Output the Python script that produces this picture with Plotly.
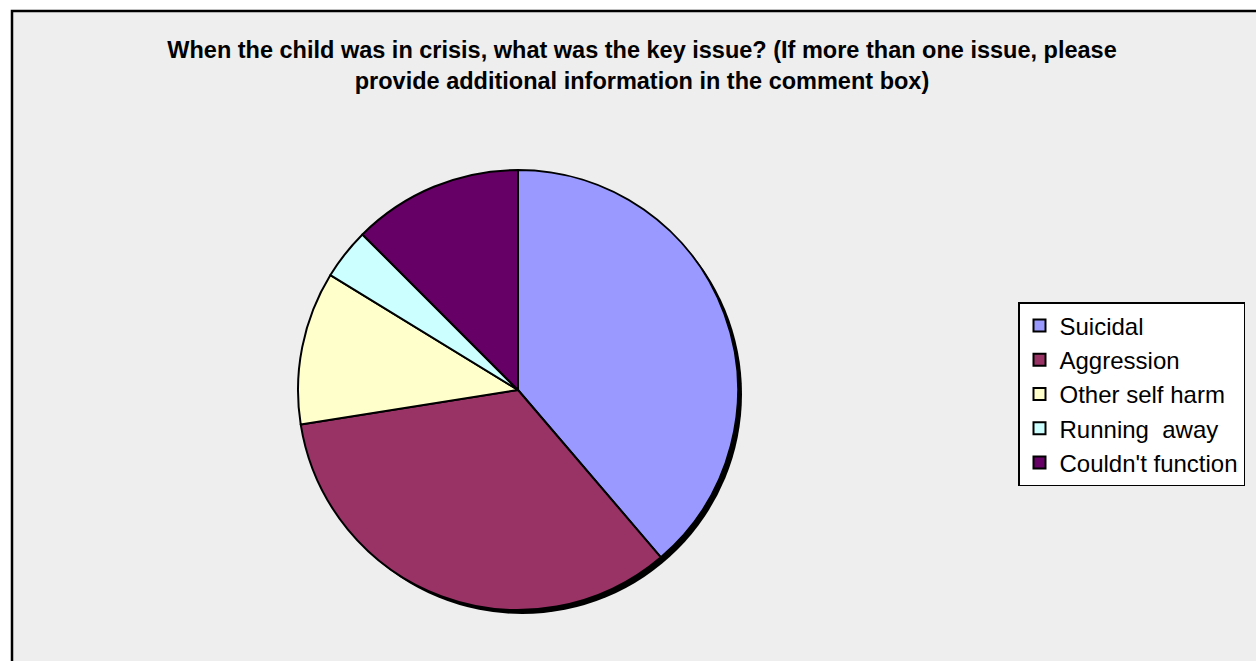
import plotly.graph_objects as go

labels = ["Suicidal", "Aggression", "Other self harm", "Running  away", "Couldn't function"]
values = [31, 27, 9, 3, 10]
colors = ["#9999FF", "#993366", "#FFFFCC", "#CCFFFF", "#660066"]
title_text = ("When the child was in crisis, what was the key issue? (If more than one issue, please"
              "<br>provide additional information in the comment box)")

W, H = 1256, 661
cx, cy, r = 518, 390, 220
sh = 4

def dom(x0, x1, y0, y1):
    return dict(x=[x0 / W, x1 / W], y=[1 - y1 / H, 1 - y0 / H])

fig = go.Figure()
# shadow
fig.add_trace(go.Pie(
    values=[sum(values)], labels=["shadow"], marker=dict(colors=["#000000"], line=dict(width=0)),
    domain=dom(cx - r + sh, cx + r + sh, cy - r + sh, cy + r + sh),
    textinfo="none", hoverinfo="skip", showlegend=False, sort=False))
# main pie
fig.add_trace(go.Pie(
    labels=labels, values=values, sort=False, direction="clockwise", rotation=0,
    marker=dict(colors=colors, line=dict(color="#000000", width=2)),
    domain=dom(cx - r, cx + r, cy - r, cy + r),
    textinfo="none", hoverinfo="label+value+percent"))

fig.update_layout(
    width=W, height=H, margin=dict(l=0, r=0, t=0, b=0),
    paper_bgcolor="white",
    font=dict(family="Liberation Sans, Arial, sans-serif", color="black"),
    title=dict(text="<b>" + title_text + "</b>", x=642 / W, xanchor="center",
               y=1 - 58 / H, yanchor="top", font=dict(size=23.5, color="black")),
    legend=dict(x=1018 / W, y=1 - 302 / H, xanchor="left", yanchor="top",
                bgcolor="white", bordercolor="black", borderwidth=1.5,
                font=dict(size=24, color="black"), traceorder="normal"),
    shapes=[dict(type="rect", xref="paper", yref="paper", layer="below",
                 x0=12 / W, x1=1.05, y0=-0.05, y1=1 - 11 / H,
                 fillcolor="#EEEEEE", line=dict(color="black", width=2.5))],
)

fig.write_html("out.html", config={"displayModeBar": False},
               post_script="document.body.style.margin='0';document.body.style.overflow='hidden';")
